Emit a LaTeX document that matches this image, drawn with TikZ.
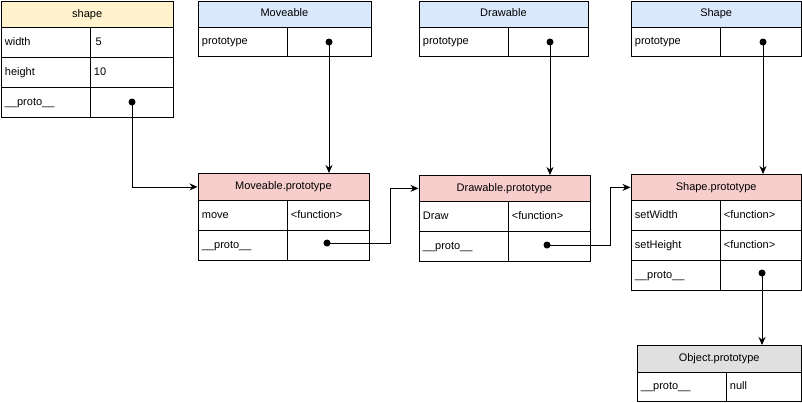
\documentclass[tikz,border=0pt]{standalone}
\usepackage{fontspec}
\setmainfont{Liberation Sans}
\usetikzlibrary{arrows.meta}
\definecolor{hy}{HTML}{FFF2CC}
\definecolor{hb}{HTML}{DAE8FC}
\definecolor{hr}{HTML}{F8CECC}
\definecolor{hg}{HTML}{E0E0E0}
\tikzset{
 cell/.style={draw,line width=0.8pt,anchor=north west,inner sep=0pt,font=\fontsize{11}{12}\selectfont,text height=8pt,text depth=2.5pt},
 dot/.style={circle,fill,inner sep=0pt,minimum size=7pt},
 arr/.style={line width=0.8pt,-{Stealth[length=8pt,width=7pt]}}
}
% \cel{name}{x}{y}{w}{h}{fill}{text}
\newcommand\cel[7]{\node[cell,fill=#6,minimum width=#4pt,minimum height=#5pt] (#1) at (#2pt,-#3pt) {#7};}
\newcommand\lcel[6]{\node[cell,minimum width=#4pt,minimum height=#5pt,text width=#4pt-8pt,align=left,inner xsep=4pt] (#1) at (#2pt,-#3pt) {#6};}
\begin{document}
\begin{tikzpicture}[x=1pt,y=1pt]
\useasboundingbox (0,0) rectangle (802,-402);
% shape
\cel{sh}{0.5}{1}{172.5}{26}{hy}{shape}
\lcel{sh1}{0.5}{27}{89}{30}{width}
\lcel{sh1v}{89.5}{27}{83.5}{30}{\,5}
\lcel{sh2}{0.5}{57}{89}{30}{height}
\lcel{sh2v}{89.5}{57}{83.5}{30}{10}
\lcel{sh3}{0.5}{87}{89}{30}{\_\_proto\_\_}
\lcel{sh3v}{89.5}{87}{83.5}{30}{}
% Moveable
\cel{mv}{197.5}{0.5}{173}{26.5}{hb}{Moveable}
\lcel{mv1}{197.5}{27}{89}{29}{prototype}
\lcel{mv1v}{286.5}{27}{84}{29}{}
% Drawable
\cel{dr}{418.5}{0.5}{169}{26.5}{hb}{Drawable}
\lcel{dr1}{418.5}{27}{89}{29}{prototype}
\lcel{dr1v}{507.5}{27}{80}{29}{}
% Shape
\cel{sp}{630.5}{0.5}{170.5}{26.5}{hb}{Shape}
\lcel{sp1}{630.5}{27}{89}{29}{prototype}
\lcel{sp1v}{719.5}{27}{81.5}{29}{}
% Moveable.prototype
\cel{mp}{197.5}{173}{171}{27}{hr}{Moveable.prototype}
\lcel{mp1}{197.5}{200}{89}{30}{move}
\lcel{mp1v}{286.5}{200}{82}{30}{<function>}
\lcel{mp2}{197.5}{230}{89}{30}{\_\_proto\_\_}
\lcel{mp2v}{286.5}{230}{82}{30}{}
% Drawable.prototype
\cel{dp}{418.5}{175}{171}{26}{hr}{Drawable.prototype}
\lcel{dp1}{418.5}{201}{89}{30}{Draw}
\lcel{dp1v}{507.5}{201}{82}{30}{<function>}
\lcel{dp2}{418.5}{231}{89}{30}{\_\_proto\_\_}
\lcel{dp2v}{507.5}{231}{82}{30}{}
% Shape.prototype
\cel{spp}{630.5}{174}{170.5}{26}{hr}{Shape.prototype}
\lcel{spp1}{630.5}{200}{89}{30}{setWidth}
\lcel{spp1v}{719.5}{200}{81.5}{30}{<function>}
\lcel{spp2}{630.5}{230}{89}{30}{setHeight}
\lcel{spp2v}{719.5}{230}{81.5}{30}{<function>}
\lcel{spp3}{630.5}{260}{89}{30}{\_\_proto\_\_}
\lcel{spp3v}{719.5}{260}{81.5}{30}{}
% Object.prototype
\cel{op}{636.5}{345}{164.5}{27}{hg}{Object.prototype}
\lcel{op1}{636.5}{372}{89}{28.5}{\_\_proto\_\_}
\lcel{op1v}{725.5}{372}{75.5}{28.5}{null}
% dots
\node[dot] (d1) at (132,-102) {};
\node[dot] (d2) at (329,-42) {};
\node[dot] (d3) at (550,-42) {};
\node[dot] (d4) at (763,-42) {};
\node[dot] (d5) at (327,-243) {};
\node[dot] (d6) at (547,-245) {};
\node[dot] (d7) at (762,-273) {};
% arrows
\draw[arr] (d1.center) |- (mp.west);
\draw[arr] (d2.center) -- (d2.center |- mp.north);
\draw[arr] (d3.center) -- (d3.center |- dp.north);
\draw[arr] (d4.center) -- (d4.center |- spp.north);
\draw[arr] (d5.center) -- (390,-243) |- (dp.west);
\draw[arr] (d6.center) -- (610,-245) |- (spp.west);
\draw[arr] (d7.center) -- (d7.center |- op.north);
\end{tikzpicture}
\end{document}
